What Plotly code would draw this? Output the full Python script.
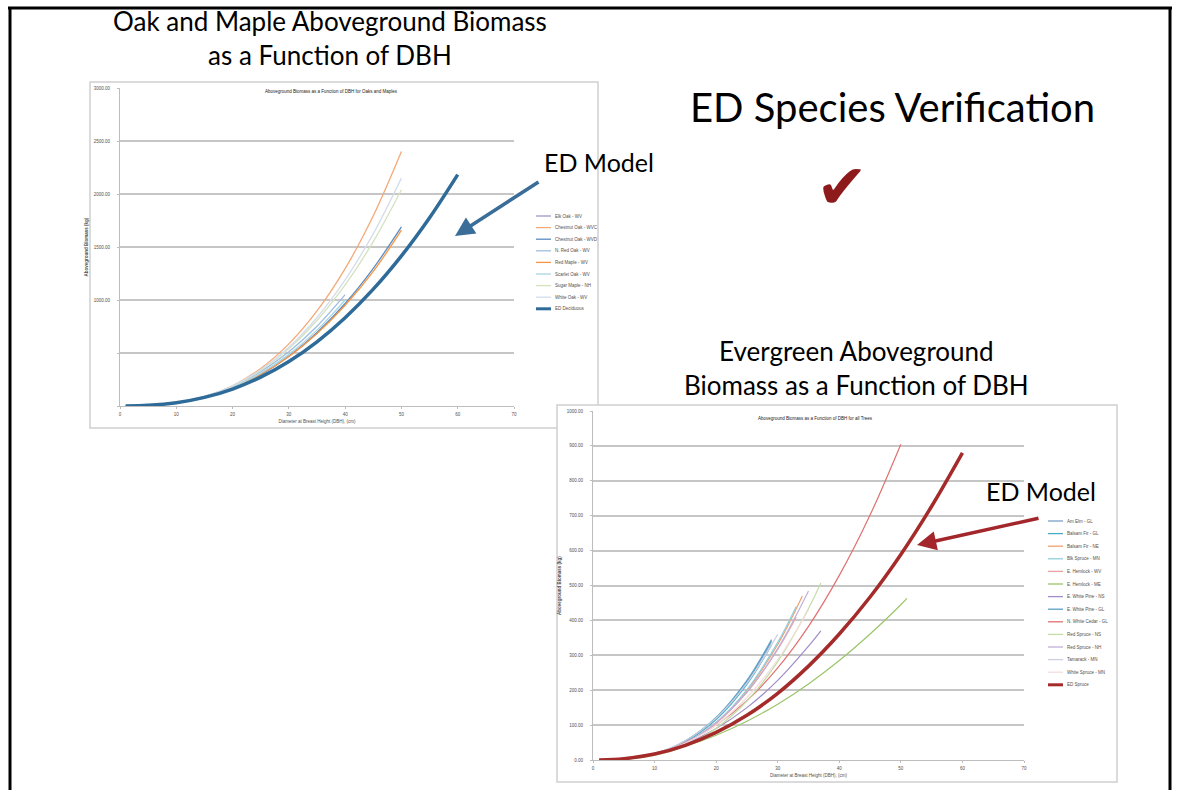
"""
ED species verification slide
Two biomass-vs-DBH charts (oak/maple and evergreen) with the ED model curves
"""

import plotly.graph_objects as go

W, H = 1182, 790

# ---- oak and maple chart (kg vs cm) ----
oak_dbh = [1, 5, 10, 15, 20, 25, 30, 35, 40, 45, 50]
oak_dbh_short = [1, 5, 10, 15, 20, 25, 30, 35, 40]
ed_deciduous_dbh = [1, 5, 10, 15, 20, 25, 30, 35, 40, 45, 50, 55, 60]

elk_oak_wv = [0, 5.3, 30, 82, 170, 296, 467, 687, 960]
chestnut_oak_wvc = [0, 4.2, 28, 86, 191, 354, 586, 897, 1296, 1794, 2400]
chestnut_oak_wvd = [0, 5.3, 30, 83, 171, 299, 471, 693, 967, 1299, 1690]
n_red_oak_wv = [0, 5.8, 33, 90, 186, 324, 511, 752, 1050]
red_maple_wv = [0, 5.8, 32, 86, 174, 300, 468, 684, 950, 1270, 1660]
scarlet_oak_wv = [0, 5.5, 31, 86, 177, 309, 487, 716, 1000]
sugar_maple_nh = [0, 5.1, 31, 89, 188, 336, 541, 807, 1142, 1551, 2040]
white_oak_wv = [0, 4.8, 30, 88, 190, 342, 555, 835, 1190, 1626, 2150]
ed_deciduous = [0, 5.9, 30.7, 81, 160, 272, 420, 606, 833, 1102, 1416, 1776, 2183]

oak_names = ["Elk Oak - WV", "Chestnut Oak - WVC", "Chestnut Oak - WVD", "N. Red Oak - WV",
             "Red Maple - WV", "Scarlet Oak - WV", "Sugar Maple - NH", "White Oak - WV",
             "ED Deciduous"]
oak_y_ticks = [0, 500, 1000, 1500, 2000, 2500, 3000]
oak_y_labels = ["", "", "1000.00", "1500.00", "2000.00", "2500.00", "3000.00"]

# ---- evergreen chart ----
am_elm_gl_dbh = [1, 5, 10, 15, 20, 25, 29]
am_elm_gl = [0, 2.5, 17, 54, 120, 224, 340]
balsam_fir_gl_dbh = [1, 5, 10, 15, 20, 25, 29]
balsam_fir_gl = [0, 2.4, 17, 52, 116, 217, 330]
balsam_fir_ne_dbh = [1, 5, 10, 15, 20, 25, 30, 34]
balsam_fir_ne = [0, 2.2, 15, 48, 106, 199, 331, 470]
blk_spruce_mn_dbh = [1, 5, 10, 15, 20, 25, 30, 33]
blk_spruce_mn = [0, 2.2, 16, 48, 108, 202, 337, 440]
e_hemlock_wv_dbh = [1, 5, 10, 15, 20, 25, 30, 33]
e_hemlock_wv = [0, 2.5, 16, 49, 106, 194, 317, 410]
e_hemlock_me_dbh = [1, 5, 10, 15, 20, 25, 30, 35, 40, 45, 50, 51]
e_hemlock_me = [0, 4.5, 18, 40, 71, 111, 160, 218, 285, 361, 445, 463]
e_white_pine_ns_dbh = [1, 5, 10, 15, 20, 25, 30, 35, 37]
e_white_pine_ns = [0, 3.7, 18, 46, 90, 150, 228, 326, 370]
e_white_pine_gl_dbh = [1, 5, 10, 15, 20, 25, 29]
e_white_pine_gl = [0, 2.6, 17, 55, 122, 228, 345]
n_white_cedar_gl_dbh = [1, 5, 10, 15, 20, 25, 30, 35, 40, 45, 50]
n_white_cedar_gl = [0, 3.5, 19, 50, 100, 170, 264, 383, 529, 702, 905]
red_spruce_ns_dbh = [1, 5, 10, 15, 20, 25, 30, 35, 37]
red_spruce_ns = [0, 1.9, 13, 40, 91, 169, 282, 434, 507]
red_spruce_nh_dbh = [1, 5, 10, 15, 20, 25, 30, 35]
red_spruce_nh = [0, 2.5, 16, 49, 107, 195, 319, 484]
tamarack_mn_dbh = [1, 5, 10, 15, 20, 25, 30]
tamarack_mn = [0, 2.9, 19, 55, 120, 220, 360]
white_spruce_mn_dbh = [1, 5, 10, 15, 20, 25, 30, 35]
white_spruce_mn = [0, 2.7, 17, 48, 100, 179, 288, 430]
ed_spruce_dbh = [1, 5, 10, 15, 20, 25, 30, 35, 40, 45, 50, 55, 60]
ed_spruce = [0, 3.7, 17, 42, 79, 128, 191, 269, 361, 467, 589, 727, 880]

ever_names = ["Am Elm - GL", "Balsam Fir - GL", "Balsam Fir - NE", "Blk Spruce - MN",
              "E. Hemlock - WV", "E. Hemlock - ME", "E. White Pine - NS", "E. White Pine - GL",
              "N. White Cedar - GL", "Red Spruce - NS", "Red Spruce - NH", "Tamarack - MN",
              "White Spruce - MN", "ED Spruce"]

dbh_ticks = [0, 10, 20, 30, 40, 50, 60, 70]

# colours (same order as the names)
oak_colors = ["#a495c7", "#f5a878", "#5b8cc0", "#9dbde0", "#f79646",
              "#a9d6e5", "#d3e2bd", "#d4dcec", "#2f6b98"]
ever_colors = ["#7ba0c8", "#4bacc6", "#f0a070", "#8fd0e0", "#e8a0a0", "#9bc46a",
               "#a08cc8", "#5aa0c8", "#e07070", "#c5dca5", "#c0b0d8", "#cdd0e0",
               "#f4dede", "#a52a2a"]


def px(x):
    return x / W


def py(y):
    return 1 - y / H


fig = go.Figure()

# oak / maple curves
oak_series = [
    (oak_dbh_short, elk_oak_wv), (oak_dbh, chestnut_oak_wvc), (oak_dbh, chestnut_oak_wvd),
    (oak_dbh_short, n_red_oak_wv), (oak_dbh, red_maple_wv), (oak_dbh_short, scarlet_oak_wv),
    (oak_dbh, sugar_maple_nh), (oak_dbh, white_oak_wv), (ed_deciduous_dbh, ed_deciduous),
]
for i, (xs, ys) in enumerate(oak_series):
    is_ed = oak_names[i].startswith("ED")
    fig.add_trace(go.Scatter(
        x=xs, y=ys, name=oak_names[i], mode="lines",
        line=dict(color=oak_colors[i], width=3.5 if is_ed else 1.3, shape="spline"),
        xaxis="x", yaxis="y", showlegend=False
    ))

# evergreen curves
ever_series = [
    (am_elm_gl_dbh, am_elm_gl), (balsam_fir_gl_dbh, balsam_fir_gl),
    (balsam_fir_ne_dbh, balsam_fir_ne), (blk_spruce_mn_dbh, blk_spruce_mn),
    (e_hemlock_wv_dbh, e_hemlock_wv), (e_hemlock_me_dbh, e_hemlock_me),
    (e_white_pine_ns_dbh, e_white_pine_ns), (e_white_pine_gl_dbh, e_white_pine_gl),
    (n_white_cedar_gl_dbh, n_white_cedar_gl), (red_spruce_ns_dbh, red_spruce_ns),
    (red_spruce_nh_dbh, red_spruce_nh), (tamarack_mn_dbh, tamarack_mn),
    (white_spruce_mn_dbh, white_spruce_mn), (ed_spruce_dbh, ed_spruce),
]
for i, (xs, ys) in enumerate(ever_series):
    is_ed = ever_names[i].startswith("ED")
    fig.add_trace(go.Scatter(
        x=xs, y=ys, name=ever_names[i], mode="lines",
        line=dict(color=ever_colors[i], width=3.5 if is_ed else 1.2, shape="spline"),
        xaxis="x2", yaxis="y2", showlegend=False
    ))

shapes = []
annotations = []

# chart frames
shapes.append(dict(type="rect", xref="paper", yref="paper", layer="below",
                   x0=px(90), x1=px(598), y0=py(428), y1=py(82),
                   fillcolor="white", line=dict(color="#cfcfcf", width=1.5)))
shapes.append(dict(type="rect", xref="paper", yref="paper", layer="below",
                   x0=px(557), x1=px(1117), y0=py(782), y1=py(405),
                   fillcolor="white", line=dict(color="#cfcfcf", width=1.5)))

# slide border
for x0, y0, x1, y1 in [(8, 8, 1172, 8), (10, 8, 10, 790), (1170, 8, 1170, 790)]:
    shapes.append(dict(type="line", xref="paper", yref="paper",
                       x0=px(x0), y0=py(y0), x1=px(x1), y1=py(y1),
                       line=dict(color="black", width=3)))

tiny = dict(family="Liberation Sans", size=4.5, color="#505050")


def text_note(text, x, y, font, xanchor="center"):
    return dict(text=text, xref="paper", yref="paper", x=px(x), y=py(y),
                xanchor=xanchor, yanchor="middle", showarrow=False, font=font)


def add_legend(names, colors, x_line, y_first, step):
    for i, name in enumerate(names):
        y = y_first + i * step
        is_ed = name.startswith("ED")
        shapes.append(dict(type="line", xref="paper", yref="paper",
                           x0=px(x_line), x1=px(x_line + 15), y0=py(y), y1=py(y),
                           line=dict(color=colors[i], width=3 if is_ed else 1.3)))
        annotations.append(text_note(name, x_line + 17, y, tiny, xanchor="left"))


add_legend(oak_names, oak_colors, 536, 216, 11.6)
add_legend(ever_names, ever_colors, 1048, 521, 12.6)

# small chart titles
chart_title_font = dict(family="Liberation Sans", size=4.5, color="#202020")
annotations.append(text_note("Aboveground Biomass as a Function of DBH for Oaks and Maples",
                             332, 92, chart_title_font))
annotations.append(text_note("Aboveground Biomass as a Function of DBH for all Trees",
                             815, 418, chart_title_font))

# slide text
big = "Lato"
annotations += [
    text_note("Oak and Maple Aboveground Biomass<br>as a Function of DBH", 330, 38,
              dict(family=big, size=26, color="black")),
    text_note("ED Species Verification", 892, 107, dict(family=big, size=40, color="black")),
    text_note("✔", 842, 186, dict(family="DejaVu Sans", size=62, color="#8e1b1b")),
    text_note("ED Model", 599, 162, dict(family=big, size=25, color="black")),
    text_note("Evergreen Aboveground<br>Biomass as a Function of DBH", 856, 368,
              dict(family=big, size=26, color="black")),
    text_note("ED Model", 1041, 491, dict(family=big, size=25, color="black")),
]

# arrows pointing at the ED curves
annotations.append(dict(text="", xref="paper", yref="paper", x=px(455), y=py(236),
                        ax=85, ay=-55, showarrow=True, arrowhead=2, arrowsize=1.1,
                        arrowwidth=3.5, arrowcolor="#3a6d98"))
annotations.append(dict(text="", xref="paper", yref="paper", x=px(917), y=py(545),
                        ax=123, ay=-27, showarrow=True, arrowhead=2, arrowsize=1.1,
                        arrowwidth=3.5, arrowcolor="#a3262a"))

axis_common = dict(showline=True, linecolor="#bdbdbd", linewidth=1, zeroline=False,
                   ticks="outside", ticklen=2, tickcolor="#bdbdbd", tickfont=tiny,
                   automargin=False)
grid = dict(showgrid=True, gridcolor="#c6c6c6", gridwidth=1.5)

fig.update_layout(
    width=W, height=H,
    margin=dict(l=0, r=0, t=0, b=0),
    paper_bgcolor="white",
    plot_bgcolor="rgba(0,0,0,0)",
    showlegend=False,
    shapes=shapes,
    annotations=annotations,
    xaxis=dict(domain=[px(120), px(514)], range=[0, 70], tickvals=dbh_ticks, anchor="y",
               showgrid=False, ticklabelstandoff=2,
               title=dict(text="Diameter at Breast Height (DBH), (cm)", font=tiny, standoff=3),
               **axis_common),
    yaxis=dict(domain=[py(406), py(88)], range=[0, 3000], tickvals=oak_y_ticks,
               ticktext=oak_y_labels, anchor="x", ticklabelstandoff=6,
               title=dict(text="<b>Aboveground Biomass (kg)</b>", font=tiny, standoff=5),
               **grid, **axis_common),
    xaxis2=dict(domain=[px(593), px(1024)], range=[0, 70], tickvals=dbh_ticks, anchor="y2",
                showgrid=False, ticklabelstandoff=2,
                title=dict(text="Diameter at Breast Height (DBH), (cm)", font=tiny, standoff=3),
                **axis_common),
    yaxis2=dict(domain=[py(760), py(411)], range=[0, 1000], dtick=100, tickformat=".2f",
                anchor="x2", ticklabelstandoff=6,
                title=dict(text="<b>Aboveground Biomass (kg)</b>", font=tiny, standoff=5),
                **grid, **axis_common),
)

fig.write_html("out.html", config={"displayModeBar": False},
               post_script="document.body.style.margin='0';document.body.style.overflow='hidden';")
